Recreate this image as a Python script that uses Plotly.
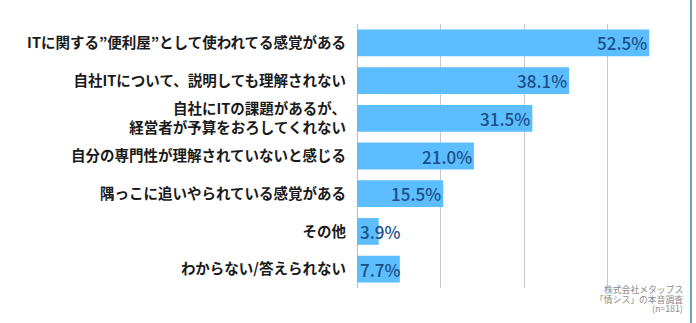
import plotly.graph_objects as go

categories = [
    "ITに関する”便利屋”として使われてる感覚がある",
    "自社ITについて、説明しても理解されない",
    "自社にITの課題があるが、<br>経営者が予算をおろしてくれない",
    "自分の専門性が理解されていないと感じる",
    "隅っこに追いやられている感覚がある",
    "その他",
    "わからない/答えられない",
]
values = [52.5, 38.1, 31.5, 21.0, 15.5, 3.9, 7.7]
source_lines = ["株式会社メタップス", "「情シス」の本音調査", "(n=181)"]

BAR = "#5cbdff"
LABEL = "#1b4f86"
FONT = "Noto Sans CJK JP"

W, H = 696, 323
ML, MR, MT, MB = 357, 5, 24, 35
PW, PH = W - ML - MR, H - MT - MB

fig = go.Figure(
    go.Bar(
        x=values,
        y=categories,
        orientation="h",
        marker=dict(color=BAR, line=dict(width=0)),
        hoverinfo="skip",
    )
)

# value labels: right-aligned inside long bars, left-aligned from the axis on short ones
annotations = []
for cat, v in zip(categories, values):
    long_bar = v >= 10
    annotations.append(
        dict(
            x=v if long_bar else 0,
            y=cat,
            xref="x",
            yref="y",
            text=f"{v:.1f}%",
            showarrow=False,
            xanchor="right" if long_bar else "left",
            xshift=0 if long_bar else 1,
            font=dict(family=FONT, size=17, color=LABEL, weight=500),
        )
    )

# survey source note, bottom right, one annotation per line
for i, line in enumerate(source_lines):
    y_px = 289.5 + i * 9.5
    annotations.append(
        dict(
            x=(684 - ML) / PW,
            y=(H - MB - y_px) / PH,
            xref="paper",
            yref="paper",
            text=line,
            showarrow=False,
            xanchor="right",
            yanchor="middle",
            align="right",
            borderpad=0,
            font=dict(family=FONT, size=8.8, color="#8a8a8a"),
        )
    )

fig.update_layout(
    width=W,
    height=H,
    margin=dict(l=ML, r=MR, t=MT, b=MB),
    paper_bgcolor="white",
    plot_bgcolor="white",
    bargap=0.29,
    showlegend=False,
    font=dict(family=FONT),
    annotations=annotations,
    xaxis=dict(
        range=[0, 60],
        tickvals=[0, 15, 30, 45],
        showticklabels=False,
        showgrid=True,
        gridcolor="#c8c8c8",
        gridwidth=1,
        zeroline=True,
        zerolinecolor="#bdbdbd",
        zerolinewidth=1,
        ticks="",
        fixedrange=True,
    ),
    yaxis=dict(
        autorange="reversed",
        tickmode="array",
        tickvals=categories,
        ticktext=categories,
        tickfont=dict(family=FONT, size=14.5, color="#1a1a1a", weight=700),
        ticklabelstandoff=10,
        showgrid=False,
        fixedrange=True,
    ),
    shapes=[
        dict(
            type="line",
            xref="paper",
            yref="paper",
            x0=1,
            x1=1,
            y0=-MB / PH,
            y1=1 + MT / PH,
            line=dict(color="#5aa9b5", width=2),
        )
    ],
)

fig.write_html("out.html")
